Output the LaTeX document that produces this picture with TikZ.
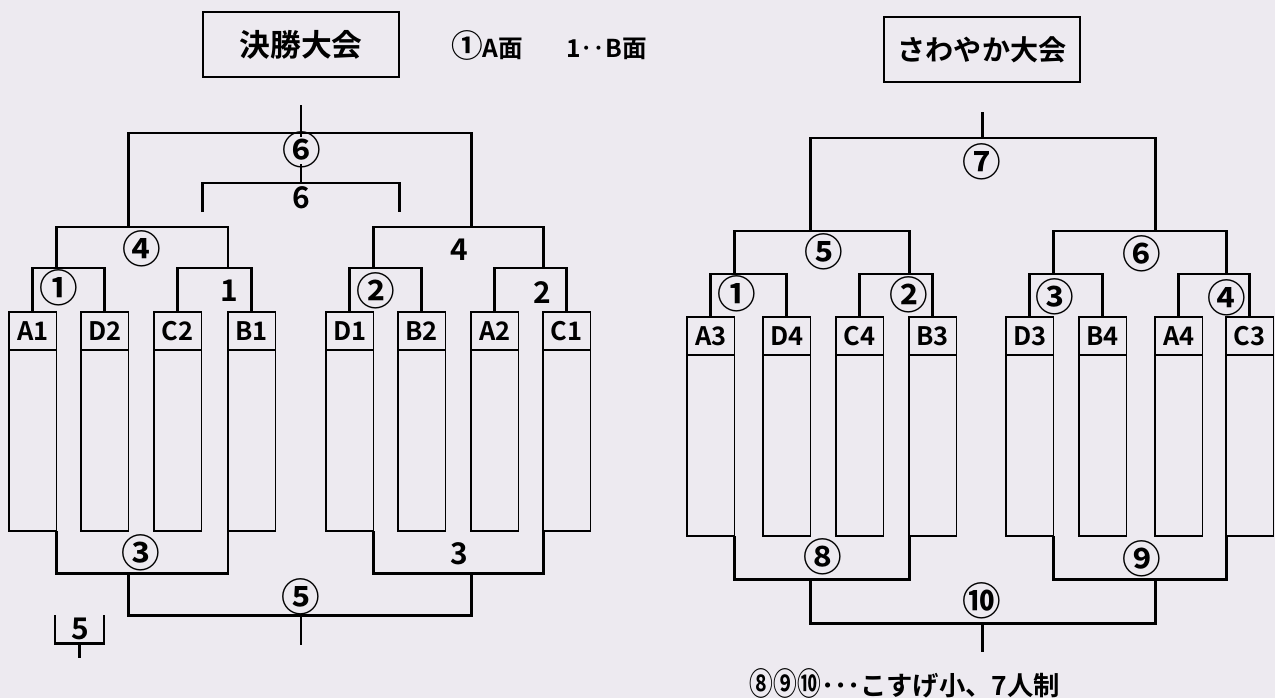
\documentclass[tikz,border=0pt]{standalone}
\usepackage{fontspec}
\setmainfont{Noto Sans CJK JP}[BoldFont={Noto Sans CJK JP Bold}]
\usetikzlibrary{positioning}
\definecolor{paper}{RGB}{237,234,240}

\begin{document}
\begin{tikzpicture}[x=0.2mm, y=-0.2mm,
    bracket/.style={line width=1.7pt},
    team/.style={draw, line width=0.6pt, inner sep=0pt, outer sep=0pt, minimum width=9.5mm, minimum height=7.6mm, font=\bfseries\fontsize{14.5}{14.5}\selectfont},
    lane/.style={draw, line width=0.6pt, inner sep=0pt, outer sep=0pt, minimum width=9.5mm, minimum height=36.2mm},
    headbox/.style={draw, line width=1.1pt, minimum width=39.2mm, minimum height=13mm, inner sep=0pt},
    mc/.style={inner sep=0pt, font=\bfseries\fontsize{22}{22}\selectfont},
    mn/.style={inner sep=0pt, font=\bfseries\fontsize{17}{17}\selectfont}]
    \useasboundingbox (0,0) rectangle (1275,698);
    \fill[paper] (0,0) rectangle (1275,698);

    \node[headbox, font=\bfseries\fontsize{17.5}{17.5}\selectfont] (t1) at (301,44.5) {決勝大会};
    \node[headbox, font=\bfseries\fontsize{16}{16}\selectfont] (t2) at (982,49.5) {さわやか大会};
    \node[anchor=west, inner sep=0pt, font=\bfseries\fontsize{14}{14}\selectfont] (key) at (451,45) {{\fontsize{18}{18}\selectfont ①}A面\hspace{8.6mm}1‥B面};

    \foreach \t/\x in {A1/32.75, D2/104.75, C2/177.75, B1/251.75, D1/349.75, B2/421.75, A2/494.75, C1/566.75} {
        \node[team] (h\t) at (\x,331) {\t};
        \node[lane, below=0pt of h\t] (c\t) {};
    }
    \foreach \t/\x in {A3/710.75, D4/786.75, C4/859.75, B3/932.75, D3/1029.75, B4/1102.75, A4/1178.75, C3/1249.75} {
        \node[team] (h\t) at (\x,336) {\t};
        \node[lane, below=0pt of h\t] (c\t) {};
    }

    \coordinate (lv1) at (0,268);
    \coordinate (lv2) at (0,227);
    \coordinate (lv3) at (0,133);
    \coordinate (lv6) at (0,183);
    \coordinate (lv7) at (0,212);
    \coordinate (lb1) at (0,573);
    \coordinate (lb2) at (0,615);
    \coordinate (p1) at (hA1.east |- lv1);
    \coordinate (q1) at (hB1.west |- lv1);
    \coordinate (p2) at (hD1.east |- lv1);
    \coordinate (q2) at (hC1.west |- lv1);
    \coordinate (p4) at (hD2.east |- lv2);
    \coordinate (q4) at (hA2.west |- lv2);
    \coordinate (p6) at (t1.south |- lv3);
    \coordinate (g6) at (t1.south |- 0,137);
    \coordinate (h6) at (t1.south |- 0,164);
    \coordinate (k6) at (t1.south |- lv6);
    \coordinate (k6a) at (t1.south west |- lv7);
    \coordinate (k6b) at (t1.south east |- lv7);
    \coordinate (top1) at (t1.south |- 0,105);
    \coordinate (r3) at (cD2.south east |- lb1);
    \coordinate (s3) at (cA2.south west |- lb1);
    \coordinate (r5) at (t1.south |- lb2);
    \coordinate (bot1) at (t1.south |- 0,645);

    \draw[bracket] (hA1.north) |- (p1) -| (hD2.north);
    \draw[bracket] (hC2.north) |- (q1) -| (hB1.north);
    \draw[bracket] (hD1.north) |- (p2) -| (hB2.north);
    \draw[bracket] (hA2.north) |- (q2) -| (hC1.north);
    \draw[bracket] (p1) |- (p4) -| (q1);
    \draw[bracket] (p2) |- (q4) -| (q2);
    \draw[bracket] (p4) |- (p6) -| (q4);
    \draw[bracket] (top1) -- (p6) -- (g6);
    \draw[bracket] (h6) -- (k6);
    \draw[bracket] (k6a) |- (k6) -| (k6b);
    \draw[bracket] (cA1.south east) |- (r3) -| (cB1.south west);
    \draw[bracket] (cD1.south east) |- (s3) -| (cC1.south west);
    \draw[bracket] (r3) |- (r5) -| (s3);
    \draw[bracket] (r5) -- (bot1);

    \coordinate (rv1) at (0,274);
    \coordinate (rv2) at (0,231);
    \coordinate (rv3) at (0,138);
    \coordinate (rb1) at (0,579);
    \coordinate (rb2) at (0,623);
    \coordinate (u1) at (hA3.east |- rv1);
    \coordinate (u2) at (hB3.west |- rv1);
    \coordinate (u3) at (hD3.east |- rv1);
    \coordinate (u4) at (hC3.west |- rv1);
    \coordinate (u5) at (hD4.east |- rv2);
    \coordinate (u6) at (hA4.west |- rv2);
    \coordinate (u7) at (t2.south |- rv3);
    \coordinate (top2) at (t2.south |- 0,112);
    \coordinate (w8) at (cD4.south east |- rb1);
    \coordinate (w9) at (cA4.south west |- rb1);
    \coordinate (w10) at (t2.south |- rb2);
    \coordinate (bot2) at (t2.south |- 0,652);

    \draw[bracket] (hA3.north) |- (u1) -| (hD4.north);
    \draw[bracket] (hC4.north) |- (u2) -| (hB3.north);
    \draw[bracket] (hD3.north) |- (u3) -| (hB4.north);
    \draw[bracket] (hA4.north) |- (u4) -| (hC3.north);
    \draw[bracket] (u1) |- (u5) -| (u2);
    \draw[bracket] (u3) |- (u6) -| (u4);
    \draw[bracket] (u5) |- (u7) -| (u6);
    \draw[bracket] (top2) -- (u7);
    \draw[bracket] (cA3.south east) |- (w8) -| (cB3.south west);
    \draw[bracket] (cD3.south east) |- (w9) -| (cC3.south west);
    \draw[bracket] (w8) |- (w10) -| (w9);
    \draw[bracket] (w10) -- (bot2);

    \coordinate (f5a) at (55,615);
    \coordinate (f5b) at (104,615);
    \coordinate (f5) at (79.5,643);
    \coordinate (f5s) at (79.5,658);
    \draw[bracket] (f5a) |- (f5) -| (f5b);
    \draw[bracket] (f5) -- (f5s);

    \node[mc] (n1) at (59,288) {①};
    \node[mn] (m1) at (229,291) {1};
    \node[mc] (n2) at (376,291) {②};
    \node[mn] (m2) at (542,293) {2};
    \node[mc] (n4) at (142,249) {④};
    \node[mn] (m4) at (459,250) {4};
    \node[mc] (n6) at (302,150) {⑥};
    \node[mn] (m6) at (301,198) {6};
    \node[mc] (n3) at (141,553) {③};
    \node[mn] (m3) at (459,554) {3};
    \node[mc] (n5) at (301,597) {⑤};
    \node[mn] (m5) at (80,629) {5};

    \node[mc] (s1) at (737,294) {①};
    \node[mc] (s2) at (909,295) {②};
    \node[mc] (s3n) at (1055,297) {③};
    \node[mc] (s4) at (1227,298) {④};
    \node[mc] (s5) at (824,252) {⑤};
    \node[mc] (s6) at (1142,254) {⑥};
    \node[mc] (s7) at (982,162) {⑦};
    \node[mc] (s8) at (823,557) {⑧};
    \node[mc] (s9) at (1142,559) {⑨};
    \node[mc] (s10) at (982,601) {⑩};

    \node[inner sep=0pt, font=\bfseries\fontsize{15}{15}\selectfont] (note) at (905,683) {\scalebox{0.75}[1]{\fontsize{18}{18}\selectfont ⑧⑨⑩}･･･こすげ小、7人制};
\end{tikzpicture}
\end{document}
